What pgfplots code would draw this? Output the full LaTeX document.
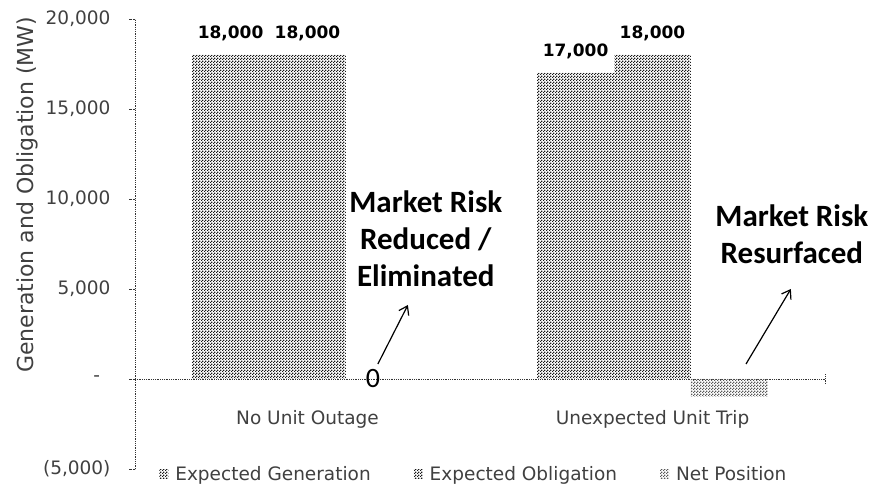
\documentclass[border=0pt]{standalone}
\usepackage{pgfplots}
\pgfplotsset{compat=1.18}
\usetikzlibrary{patterns,arrows.meta}
\usepackage{fontspec}
\setmainfont{DejaVu Sans}
\newfontfamily\carlito{Carlito}
\pgfdeclarepatternformonly{checker}{\pgfqpoint{0pt}{0pt}}{\pgfqpoint{3pt}{3pt}}{\pgfqpoint{3pt}{3pt}}{%
  \pgfpathrectangle{\pgfqpoint{0pt}{0pt}}{\pgfqpoint{1.5pt}{1.5pt}}%
  \pgfpathrectangle{\pgfqpoint{1.5pt}{1.5pt}}{\pgfqpoint{1.5pt}{1.5pt}}%
  \pgfusepath{fill}}
\begin{document}
\begin{tikzpicture}
\useasboundingbox (0pt,0pt) rectangle (875pt,486pt);
\begin{axis}[
  at={(135pt,17pt)}, anchor=south west,
  scale only axis, width=690pt, height=450pt,
  clip=false,
  xmin=-0.5, xmax=1.5, ymin=-5000, ymax=20000,
  scaled y ticks=false,
  axis x line=middle, axis y line=left,
  x axis line style={-, densely dotted, black!80, line width=0.8pt},
  y axis line style={-, densely dotted, black!80, line width=0.8pt},
  xtick={0,1}, xticklabels={No Unit Outage, Unexpected Unit Trip},
  xtick style={draw=none},
  xticklabel style={font=\fontsize{18.5}{20}\selectfont, text=black!75, yshift=-22pt},
  ytick={-5000,0,5000,10000,15000,20000},
  yticklabels={{(5,000)},{\hbox to 17pt{-\hfil}},{5,000},{10,000},{15,000},{20,000}},
  ytick style={densely dotted, black!80, line width=0.8pt},
  tick align=outside, major tick length=6pt,
  yticklabel style={font=\fontsize{18.5}{20}\selectfont, text=black!75, xshift=-15pt},
  ylabel={Generation and Obligation (MW)},
  ylabel style={at={(axis description cs:-0.1565,0.609)}, anchor=center, font=\fontsize{22}{24}\selectfont, text=black!75},
  ybar=0pt, bar width=0.223,
  legend style={at={(axis description cs:0.035,-0.011)}, anchor=west, legend columns=3, draw=none, fill=none,
    font=\fontsize{18.5}{20}\selectfont, text=black!75,
    /tikz/every odd column/.append style={column sep=5pt},
    /tikz/every even column/.append style={column sep=41pt}, inner sep=0pt},
  legend image code/.code={\fill[#1] (0pt,-4.5pt) rectangle (9pt,4.5pt);},
  nodes near coords style={font=\bfseries\fontsize{17}{17}\selectfont, anchor=base, inner sep=0pt, yshift=16pt, text=black},
]
\addplot[draw=none, pattern=checker, pattern color=black!90,
  nodes near coords={\pgfmathprintnumber[fixed,1000 sep={,},assume math mode=true]{\pgfplotspointmeta}}]
  coordinates {(0,18000) (1,17000)};
\addlegendentry{Expected Generation}
\addplot[draw=none, pattern=checker, pattern color=black!90,
  nodes near coords={\pgfmathprintnumber[fixed,1000 sep={,},assume math mode=true]{\pgfplotspointmeta}}]
  coordinates {(0,18000) (1,18000)};
\addlegendentry{Expected Obligation}
\addplot[draw=none, pattern=checker, pattern color=black!65]
  coordinates {(0,0) (1,-1000)};
\addlegendentry{Net Position}

\node[font=\carlito\fontsize{28}{28}\selectfont] at (axis cs:0.19,0) {0};
\node[font=\carlito\bfseries\fontsize{31}{37}\selectfont, align=center] at (axis cs:0.343,7778) {Market Risk\\Reduced /\\Eliminated};
\node[font=\carlito\bfseries\fontsize{31}{37}\selectfont, align=center] at (axis cs:1.404,8056) {Market Risk\\Resurfaced};
\draw[line width=1.2pt, -{Straight Barb[length=8pt,width=11pt]}] (axis cs:0.204,833) -- (axis cs:0.291,4111);
\draw[line width=1.2pt, -{Straight Barb[length=8pt,width=11pt]}] (axis cs:1.271,833) -- (axis cs:1.401,5000);
\draw[densely dotted, black!80, line width=0.8pt] (axis cs:1.5,-280) -- (axis cs:1.5,280);
\end{axis}
\end{tikzpicture}
\end{document}
